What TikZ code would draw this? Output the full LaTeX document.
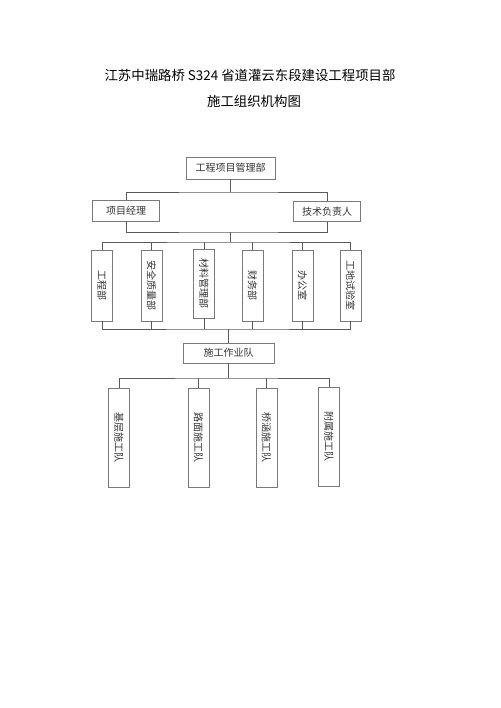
\documentclass[tikz,border=0pt]{standalone}
\usepackage{fontspec}
\usepackage{graphicx}
\setmainfont{Noto Sans CJK SC}
\definecolor{boxgray}{HTML}{7A7A7A}
\definecolor{linegray}{HTML}{5A5A5A}
\definecolor{txtgray}{HTML}{333333}
\tikzset{
  orgbox/.style={draw=boxgray, fill=white, line width=0.7pt, inner sep=0pt,
    text=txtgray, font=\fontsize{10}{12}\selectfont},
  hbox/.style={orgbox, minimum height=21pt},
  vbox/.style={orgbox, minimum width=21pt},
  link/.style={draw=linegray, line width=0.7pt},
}
\newcommand{\vtext}[1]{\rotatebox{-90}{#1}}
\begin{document}
\begin{tikzpicture}[x=1pt, y=-1pt]
    \fill[white] (0,0) rectangle (500,708);
    \useasboundingbox (0,0) rectangle (500,708);
    % title
    \node[text=black, font=\fontsize{13.4}{15}\selectfont] (title) at (250,75) {江苏中瑞路桥 S324 省道灌云东段建设工程项目部};
    \node[text=black, font=\fontsize{13.4}{15}\selectfont] (subtitle) at (254,101) {施工组织机构图};
    % top
    \node[hbox, minimum width=89pt, minimum height=22pt] (pm) at (230.5,168) {工程项目管理部};
    \node[hbox, minimum width=67pt] (mgr) at (126,210.5) {项目经理};
    \node[hbox, minimum width=67pt, minimum height=20pt] (tech) at (327,211.5) {技术负责人};
    % departments
    \node[vbox, minimum height=71pt] (d1) at (102,285.5) {\vtext{工程部}};
    \node[vbox, minimum height=71pt] (d2) at (151.5,285.5) {\vtext{安全质量部}};
    \node[vbox, minimum height=69pt] (d3) at (204,283.5) {\vtext{材料管理部}};
    \node[vbox, minimum height=71pt] (d4) at (252.5,285.5) {\vtext{财务部}};
    \node[vbox, minimum height=71pt] (d5) at (302.5,285.5) {\vtext{办公室}};
    \node[vbox, minimum height=71pt] (d6) at (350.5,285.5) {\vtext{工地试验室}};
    % teams
    \node[hbox, minimum width=91pt, minimum height=20pt] (team) at (228.5,353) {施工作业队};
    \node[vbox, minimum height=99pt] (t1) at (119,437.5) {\vtext{基层施工队}};
    \node[vbox, minimum height=99pt] (t2) at (198.5,437.5) {\vtext{路面施工队}};
    \node[vbox, minimum height=99pt] (t3) at (266.5,437.5) {\vtext{桥涵施工队}};
    \node[vbox, minimum height=99pt] (t4) at (329,436.5) {\vtext{附属施工队}};
    % junctions
    \coordinate (j1) at (230,192);
    \coordinate (j2) at (230,232);
    \coordinate (j3) at (230,242);
    \coordinate (j4) at (229,329);
    \coordinate (j5) at (229,378);
    % connectors
    \draw[link] (pm.south) -- (pm.south |- j1);
    \draw[link] (mgr.north) |- (j1) -| (tech.north);
    \draw[link] (mgr.south) |- (j2) -| (tech.south);
    \draw[link] (j2) -- (j3);
    \draw[link] (d1.north) |- (j3) -| (d6.north);
    \draw[link] (d1.south) |- (j4) -| (d6.south);
    \foreach \n in {2,...,5} {
        \draw[link] (d\n.north) -- (d\n.north |- j3);
        \draw[link] (d\n.south) -- (d\n.south |- j4);
    }
    \draw[link] (team.north |- j4) -- (team.north);
    \draw[link] (team.south) -- (team.south |- j5);
    \draw[link] (t1.north) |- (j5) -| (t4.north);
    \foreach \n in {2,3}
        \draw[link] (t\n.north) -- (t\n.north |- j5);
\end{tikzpicture}
\end{document}
